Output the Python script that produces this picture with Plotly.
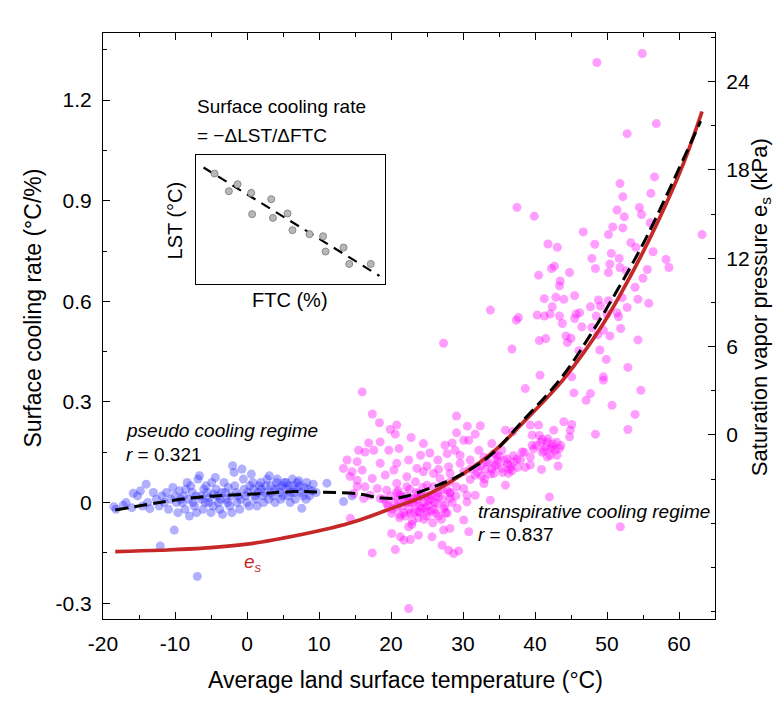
import plotly.graph_objects as go

FONT = "Liberation Sans, Arial, sans-serif"

# ---------------- data ----------------
blue_T = [-18.5,-18.2,-17.2,-16.8,-16.0,-15.8,-15.2,-14.8,-14.5,-14.0,-13.8,-13.5,-13.0,-12.6,-12.2,-12.05,-11.8,-11.5,-11.2,-10.9,
          -10.6,-10.3,-10.1,-10.0,-9.8,-9.6,-9.4,-9.2,-9.0,-8.8,-8.6,-8.5,-8.3,-8.1,-8.0,-7.8,-7.6,-7.5,-7.3,-7.1,
          -7.0,-6.9,-6.8,-6.6,-6.4,-6.3,-6.1,-6.0,-5.8,-5.7,-5.5,-5.3,-5.2,-5.0,-4.9,-4.7,-4.6,-4.4,-4.3,-4.1,
          -4.0,-3.8,-3.7,-3.5,-3.4,-3.2,-3.0,-2.9,-2.7,-2.6,-2.4,-2.2,-2.1,-2.0,-1.8,-1.7,-1.5,-1.4,-1.2,-1.0,
          -0.9,-0.7,-0.5,-0.4,-0.2,0.0,0.1,0.3,0.4,0.6,0.8,0.9,1.1,1.2,1.4,1.5,1.7,1.9,2.0,2.2,
          2.3,2.5,2.6,2.8,3.0,3.1,3.3,3.4,3.6,3.8,3.9,4.1,4.2,4.4,4.6,4.7,4.9,5.0,5.2,5.4,
          5.5,5.7,5.8,6.0,6.1,6.3,6.4,6.6,6.7,6.9,7.0,7.2,7.3,7.5,7.6,7.8,8.0,8.2,8.3,8.5,
          8.7,9.0,9.2,9.6,11.1,13.4,14.6]
blue_rate = [-0.012,-0.02,-0.008,0.0,-0.015,0.028,0.02,0.035,-0.01,0.055,0.0,-0.018,0.03,0.01,-0.01,-0.129,0.02,0.0,0.03,-0.02,
             0.01,0.045,-0.082,0.02,0.0,-0.03,0.035,0.01,0.0,0.02,-0.02,0.04,0.06,0.01,-0.04,0.05,0.03,0.0,-0.01,0.02,
             -0.03,-0.22,0.07,0.08,0.02,0.01,-0.02,0.04,0.0,0.05,0.03,0.0,0.015,-0.03,0.06,-0.01,0.025,0.075,0.04,0.02,
             0.0,-0.02,0.01,0.03,-0.035,0.06,0.03,0.01,0.0,0.045,-0.01,0.02,-0.03,0.11,0.09,0.05,0.03,0.0,0.02,-0.02,
             0.01,0.1,0.07,0.04,0.02,0.0,0.03,-0.01,0.05,0.085,0.06,0.04,0.02,0.01,-0.01,0.03,0.05,0.06,0.04,0.02,
             0.0,0.03,0.05,0.07,0.01,0.08,0.05,0.03,0.02,0.04,0.0,0.06,0.07,0.045,0.03,0.01,0.05,0.02,0.06,0.06,
             0.04,0.02,0.05,0.0,0.03,0.07,0.05,0.03,0.01,0.04,0.06,0.065,0.05,0.03,-0.017,0.02,0.045,0.01,0.06,0.04,
             0.02,0.035,0.055,0.03,0.058,0.003,0.02]

pink_T = [54.9,48.6,56.85,52.8,56.6,51.8,56.1,52.2,37.5,39.9,51.4,54.5,54.8,52.4,56.0,50.8,52.2,46.7,50.2,63.2,
          41.8,43.1,48.3,53.3,54.0,50.6,56.4,47.9,51.7,58.2,50.4,42.3,42.7,48.4,51.8,58.6,44.8,50.2,52.7,55.6,
          40.5,55.0,43.5,43.4,53.9,45.5,41.3,42.9,44.0,48.8,50.2,52.1,54.3,55.8,42.4,47.7,49.1,52.8,33.8,40.3,
          41.3,42.1,43.4,45.7,46.2,48.5,50.0,51.4,37.4,37.7,43.8,45.5,51.6,46.5,47.9,49.5,51.9,27.3,40.6,41.5,
          44.3,44.5,45.0,48.7,50.4,54.3,36.8,46.1,49.0,49.9,40.7,49.5,52.9,45.1,
          16.0,38.65,45.4,47.7,49.5,47.1,54.7,50.7,53.9,52.9,48.4,17.4,18.4,20.8,19.9,29.1,30.6,32.4,22.8,20.6,
          29.1,31.7,30.8,16.9,18.5,24.5,27.5,28.5,30.1,34.0,35.9,36.9,39.35,40.5,39.6,42.6,44.0,45.1,44.9,44.8,
          41.0,41.7,42.4,42.8,43.4,41.2,39.6,42.1,43.05,41.7,39.35,38.2,38.0,43.2,40.9,15.5,16.4,17.6,19.7,21.1,
          24.1,25.4,26.5,27.8,28.9,29.6,32.2,32.9,34.7,36.1,37.0,33.6,34.3,35.4,15.3,14.6,16.0,17.4,18.5,20.8,
          22.45,23.6,25.0,26.6,28.0,29.6,31.0,31.9,34.7,35.4,36.6,37.6,38.65,39.35,33.1,34.3,36.3,28.2,30.1,31.7,
          32.6,32.9,35.9,31.0,29.1,28.2,26.8,25.9,24.5,22.2,20.4,19.2,15.3,16.4,18.1,19.4,20.8,22.2,23.4,25.0,
          25.9,27.1,28.2,30.55,31.7,33.8,28.2,26.4,27.8,29.2,27.3,25.2,24.3,23.4,22.45,21.3,20.8,20.1,21.3,22.7,
          23.8,25.0,26.2,19.4,18.5,17.1,16.2,14.8,23.1,23.8,24.3,25.5,26.6,27.8,30.1,30.55,14.35,20.1,21.3,21.8,
          22.7,22.45,23.8,25.7,27.3,28.2,30.1,30.8,27.1,28.0,28.7,29.4,20.6,17.4,22.45,42.0,51.85,
          13.9,13.4,14.3,15.3,
          20.5,21.0,21.5,22.0,22.5,23.0,23.5,24.0,24.5,25.0,25.5,26.0,26.5,27.0,22.0,23.0,24.0,25.0,26.0,21.0,
          22.8,24.8,20.0,19.0,21.8,23.8,25.8,27.5,28.5,29.0,
          33.2,34.0,34.8,35.5,36.2,37.0,35.0,33.8,36.8,32.5,
          40.2,41.0,41.8,42.5,40.6,43.0,41.5,
          20.2,20.8,21.2,21.6,22.2,22.6,23.2,23.6,24.2,24.6,25.2,25.6,26.2,26.6,27.2,27.6,28.2,19.6,22.9,24.4,
          34.4,35.8,36.5,37.5,38.5,39.8,40.8,42.2,43.6,32.0,33.0,31.0]
pink_rate = [1.339,1.312,1.13,1.10,0.971,0.951,0.922,0.912,0.880,0.854,0.872,0.880,0.859,0.852,0.834,0.822,0.819,0.807,0.799,0.799,
             0.771,0.761,0.770,0.775,0.761,0.743,0.748,0.728,0.728,0.725,0.711,0.698,0.705,0.698,0.701,0.701,0.686,0.686,0.691,0.695,
             0.678,0.669,0.661,0.646,0.642,0.617,0.608,0.612,0.606,0.604,0.602,0.611,0.606,0.594,0.584,0.584,0.586,0.582,0.574,0.559,
             0.556,0.562,0.556,0.562,0.566,0.556,0.562,0.566,0.544,0.552,0.534,0.549,0.554,0.524,0.522,0.514,0.519,0.475,0.483,0.489,
             0.497,0.477,0.490,0.500,0.497,0.485,0.458,0.453,0.455,0.427,0.380,0.375,0.403,0.375,
             0.330,0.340,0.327,0.325,0.365,0.305,0.335,0.290,0.263,0.218,0.204,0.264,0.238,0.231,0.218,0.258,0.228,0.229,0.194,0.204,
             0.208,0.204,0.186,0.178,0.181,0.176,0.171,0.178,0.186,0.176,0.216,0.211,0.231,0.231,0.201,0.216,0.241,0.233,0.216,0.196,
             0.188,0.181,0.166,0.156,0.161,0.156,0.171,0.141,0.141,0.136,0.136,0.151,0.127,0.109,0.099,0.156,0.151,0.156,0.156,0.161,
             0.141,0.148,0.127,0.146,0.156,0.141,0.156,0.136,0.136,0.131,0.121,0.121,0.146,0.156,0.122,0.092,0.097,0.072,0.117,0.117,
             0.127,0.102,0.109,0.099,0.107,0.117,0.127,0.107,0.112,0.102,0.109,0.105,0.105,0.112,0.099,0.087,0.087,0.087,0.092,0.082,
             0.079,0.057,0.052,0.069,0.047,0.062,0.072,0.087,0.092,0.077,0.097,0.082,0.067,0.047,0.042,0.037,0.057,0.047,0.062,0.052,
             0.047,0.037,0.027,0.022,0.022,0.007,0.012,-0.003,-0.032,-0.017,-0.017,-0.008,-0.017,-0.008,0.003,0.022,-0.013,-0.032,-0.037,-0.032,
             -0.027,-0.027,-0.032,-0.003,0.012,0.022,0.012,0.027,0.012,0.027,0.017,0.022,0.017,0.037,0.042,0.002,-0.047,-0.092,-0.102,-0.112,
             -0.110,-0.072,-0.097,-0.102,-0.082,-0.077,-0.052,-0.087,-0.127,-0.142,-0.152,-0.144,-0.140,-0.150,-0.316,0.017,-0.072,
             0.127,0.102,0.078,0.048,
             0.0,0.01,-0.01,0.02,-0.02,0.0,0.03,-0.01,0.0,-0.04,0.01,-0.02,0.03,-0.05,-0.04,-0.055,-0.03,0.02,0.0,0.035,
             0.01,-0.015,0.02,0.01,-0.03,-0.045,-0.06,-0.01,0.0,0.02,
             0.12,0.10,0.125,0.09,0.115,0.14,0.14,0.085,0.095,0.11,
             0.17,0.15,0.19,0.175,0.20,0.18,0.165,
             -0.02,0.03,-0.045,0.015,0.0,0.04,-0.03,0.01,0.025,-0.05,0.005,-0.025,0.02,-0.04,0.01,-0.03,0.03,-0.01,-0.065,0.045,
             0.11,0.125,0.10,0.13,0.15,0.16,0.18,0.16,0.17,0.09,0.07,0.10]

# fitted (dashed) curve and e_s curve
fit_T = [-18.3,-7.2,1.2,6.7,10.8,15.2,18.6,21.3,25.9,29.6,33.8,38.4,43.5,47.7,51.4,55.1,58.8,63.0]
fit_rate = [-0.022,0.015,0.026,0.033,0.031,0.027,0.014,0.015,0.047,0.082,0.141,0.246,0.368,0.500,0.632,0.775,0.94,1.137]
es_T = [-18.3,-12.0,-6.0,0.0,5.0,10.6,14.4,17.6,21.0,25.0,29.6,34.25,38.9,44.0,49.5,53.2,56.9,60.6,63.2]
es_rate = [-0.146,-0.142,-0.136,-0.124,-0.106,-0.081,-0.060,-0.037,-0.010,0.023,0.080,0.152,0.251,0.369,0.534,0.673,0.83,1.01,1.166]

# inset (schematic) data
inset_ftc = [0.98,1.74,2.20,2.92,2.97,3.98,4.07,4.84,5.10,6.00,6.72,6.85,7.80,8.10,9.24]
inset_lst = [8.58,7.21,7.75,7.08,5.43,6.59,5.14,5.48,4.19,3.88,3.72,2.53,2.84,1.57,1.57]
inset_line_ftc = [0.40,9.70]
inset_line_lst = [9.05,0.64]

x_ticks = [-20,-10,0,10,20,30,40,50,60]
x_ticklabels = ["-20","-10","0","10","20","30","40","50","60"]
y_ticks = [-0.3,0,0.3,0.6,0.9,1.2]
y_ticklabels = ["-0.3","0","0.3","0.6","0.9","1.2"]
y2_ticks = [0,6,12,18,24]
y2_ticklabels = ["0","6","12","18","24"]

# ---------------- figure ----------------
W, H = 778, 702
L, R, T, B = 102.7, 715.0, 32.7, 619.0

def px_x(px):
    return (px - L) / (R - L)

def px_y(py):
    return (B - py) / (B - T)

fig = go.Figure()
fig.add_trace(go.Scatter(x=blue_T, y=blue_rate, mode="markers",
                         marker=dict(size=9, color="#2828ff", opacity=0.37, line=dict(width=0)),
                         showlegend=False))
fig.add_trace(go.Scatter(x=pink_T, y=pink_rate, mode="markers",
                         marker=dict(size=9, color="#ff00ff", opacity=0.38, line=dict(width=0)),
                         showlegend=False))
fig.add_trace(go.Scatter(x=es_T, y=es_rate, mode="lines", line=dict(color="#c62828", width=3.7, shape="spline"),
                         showlegend=False))
fig.add_trace(go.Scatter(x=fit_T, y=fit_rate, mode="lines",
                         line=dict(color="black", width=3, dash="13px,6px", shape="spline"),
                         showlegend=False))
# invisible trace that activates the right axis
fig.add_trace(go.Scatter(x=[0], y=[0], yaxis="y2", mode="markers", marker=dict(opacity=0),
                         hoverinfo="skip", showlegend=False))
# inset
fig.add_trace(go.Scatter(x=inset_line_ftc, y=inset_line_lst, xaxis="x3", yaxis="y3", mode="lines",
                         line=dict(color="black", width=2.2, dash="10px,7px"), showlegend=False))
fig.add_trace(go.Scatter(x=inset_ftc, y=inset_lst, xaxis="x3", yaxis="y3", mode="markers",
                         marker=dict(size=7, color="#b8b8b8", line=dict(color="#8a8a8a", width=1)),
                         showlegend=False))

tickfont = dict(family=FONT, size=21, color="black")
fig.update_layout(
    width=W, height=H,
    margin=dict(l=L, r=W - R, t=T, b=H - B, autoexpand=False),
    paper_bgcolor="white", plot_bgcolor="white",
    font=dict(family=FONT, color="black"),
    xaxis=dict(range=[-20, 65], tickvals=x_ticks, ticktext=x_ticklabels, ticks="inside", ticklen=7,
               tickcolor="black", showline=True, linecolor="black", linewidth=1.2, mirror="ticks",
               showgrid=False, zeroline=False, tickfont=tickfont, ticklabelstandoff=6,
               minor=dict(dtick=5, tick0=0, ticks="inside", ticklen=4, tickcolor="black")),
    yaxis=dict(range=[-0.347, 1.4], tickvals=y_ticks, ticktext=y_ticklabels, ticks="inside", ticklen=7,
               tickcolor="black", showline=True, linecolor="black", linewidth=1.2,
               showgrid=False, zeroline=False, tickfont=tickfont, ticklabelstandoff=6,
               minor=dict(dtick=0.15, tick0=0, ticks="inside", ticklen=4, tickcolor="black")),
    yaxis2=dict(range=[-12.5, 27.3], overlaying="y", side="right", tickvals=y2_ticks, ticktext=y2_ticklabels,
                ticks="inside", ticklen=7, tickcolor="black", showline=True, linecolor="black", linewidth=1.2,
                showgrid=False, zeroline=False, tickfont=tickfont, ticklabelstandoff=6,
                minor=dict(dtick=3, tick0=0, ticks="inside", ticklen=4, tickcolor="black")),
    xaxis3=dict(domain=[px_x(195.7), px_x(385)], anchor="y3", range=[0, 10], showticklabels=False,
                ticks="", showline=True, mirror=True, linecolor="black", linewidth=1.3,
                showgrid=False, zeroline=False),
    yaxis3=dict(domain=[px_y(284), px_y(155)], anchor="x3", range=[0, 10], showticklabels=False,
                ticks="", showline=True, mirror=True, linecolor="black", linewidth=1.3,
                showgrid=False, zeroline=False),
)

ann = []
def add_text(text, px, py, size, xanchor="center", yanchor="middle", angle=0, color="black"):
    ann.append(dict(text=text, x=px_x(px), y=px_y(py), xref="paper", yref="paper", showarrow=False,
                    xanchor=xanchor, yanchor=yanchor, textangle=angle,
                    font=dict(family=FONT, size=size, color=color)))

add_text("Average land surface temperature (°C)", 405, 680, 23)
add_text("Surface cooling rate (°C/%)", 33, 308, 23, angle=-90)
add_text("Saturation vapor pressure e<sub>s</sub> (kPa)", 761, 307, 22, angle=-90)
add_text("Surface cooling rate", 195, 106, 19, xanchor="left")
add_text("= \u2212\u0394LST/\u0394FTC", 195, 135, 19, xanchor="left")
add_text("LST (°C)", 175, 220, 20, angle=-90)
add_text("FTC (%)", 290, 300, 20)
add_text("<i>pseudo cooling regime</i>", 123.3, 430, 19, xanchor="left")
add_text("<i>r</i> = 0.321", 123.3, 454, 19, xanchor="left")
add_text("<i>transpirative cooling regime</i>", 476, 511.7, 19, xanchor="left")
add_text("<i>r</i> = 0.837", 476, 534, 19, xanchor="left")
add_text("<i>e<sub>s</sub></i>", 253, 563, 19, color="#c62828")
fig.update_layout(annotations=ann)

fig.write_html("out.html")
